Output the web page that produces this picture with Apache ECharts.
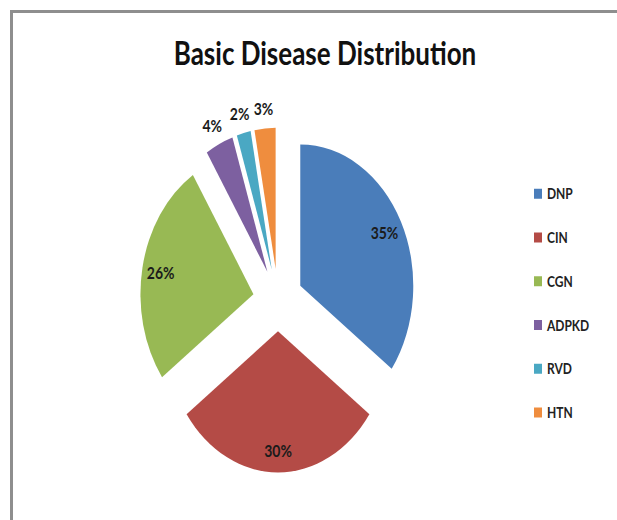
<!DOCTYPE html>
<html>
<head>
<meta charset="utf-8">
<script src="https://cdn.jsdelivr.net/npm/echarts@6/dist/echarts.min.js"></script>
<style>
  html, body { margin: 0; padding: 0; background: #fff; overflow: hidden; }
  #frame {
    position: absolute; left: 10px; top: 10px; width: 640px; height: 540px;
    border-left: 3px solid #8e8e8e; border-top: 3px solid #8e8e8e;
  }
  /* the reference picture is stretched vertically, so the chart is too */
  #main {
    position: absolute; left: 0; top: 0; width: 617px; height: 416px;
    transform: scaleY(1.25); transform-origin: 0 0;
  }
</style>
</head>
<body>
<div id="frame"></div>
<div id="main"></div>
<script>
// data
const categories = ['DNP', 'CIN', 'CGN', 'ADPKD', 'RVD', 'HTN'];
const percents = [35, 30, 26, 4, 2, 3];
const palette = ['#4a7dba', '#b44b46', '#98b954', '#7d60a0', '#4aa8c3', '#ef8d3e'];

let chart = echarts.init(document.getElementById('main'), null, { renderer: 'svg' });

const pieData = categories.map((name, i) => ({ name: name, value: percents[i], selected: true }));

const labelFont = {
  fontFamily: 'Lato', fontWeight: 'bold', fontSize: 14, color: '#1b1b1b'
};

// common settings for the exploded pie and its label rings
function pieBase() {
  return {
    type: 'pie',
    center: [278, 240],
    startAngle: 90,
    clockwise: true,
    selectedMode: 'multiple',
    selectedOffset: 25,
    animation: false,
    avoidLabelOverlap: false,
    labelLine: { show: false },
    emphasis: { disabled: true },
    select: { itemStyle: { borderWidth: 0 } },
    data: pieData
  };
}

let slices = pieBase();
slices.radius = [0, 113];
slices.label = { show: false };

// transparent ring, puts the big labels near the rim
let innerLabels = pieBase();
innerLabels.radius = [70, 113];
innerLabels.silent = true;
innerLabels.itemStyle = { color: 'transparent' };
innerLabels.label = Object.assign({
  position: 'inside',
  formatter: p => p.value >= 10 ? p.value + '%' : ''
}, labelFont);

// transparent ring outside, for the small slices
let outerLabels = pieBase();
outerLabels.radius = [113, 140];
outerLabels.silent = true;
outerLabels.itemStyle = { color: 'transparent' };
outerLabels.label = Object.assign({
  position: 'inside',
  formatter: p => p.value < 10 ? p.value + '%' : ''
}, labelFont);

chart.setOption({
  color: palette,
  title: {
    text: 'Basic Disease Distribution',
    left: 320,
    top: 24,
    textAlign: 'center',
    textStyle: { fontFamily: 'Lato', fontWeight: 'bold', fontSize: 26, color: '#111' }
  },
  legend: {
    orient: 'vertical',
    left: 529,
    top: 143,
    itemWidth: 8,
    itemHeight: 8,
    itemGap: 21,
    icon: 'rect',
    data: categories,
    textStyle: { fontFamily: 'Lato', fontWeight: 'bold', fontSize: 12, lineHeight: 14, color: '#222' }
  },
  series: [slices, innerLabels, outerLabels]
});
</script>
</body>
</html>
